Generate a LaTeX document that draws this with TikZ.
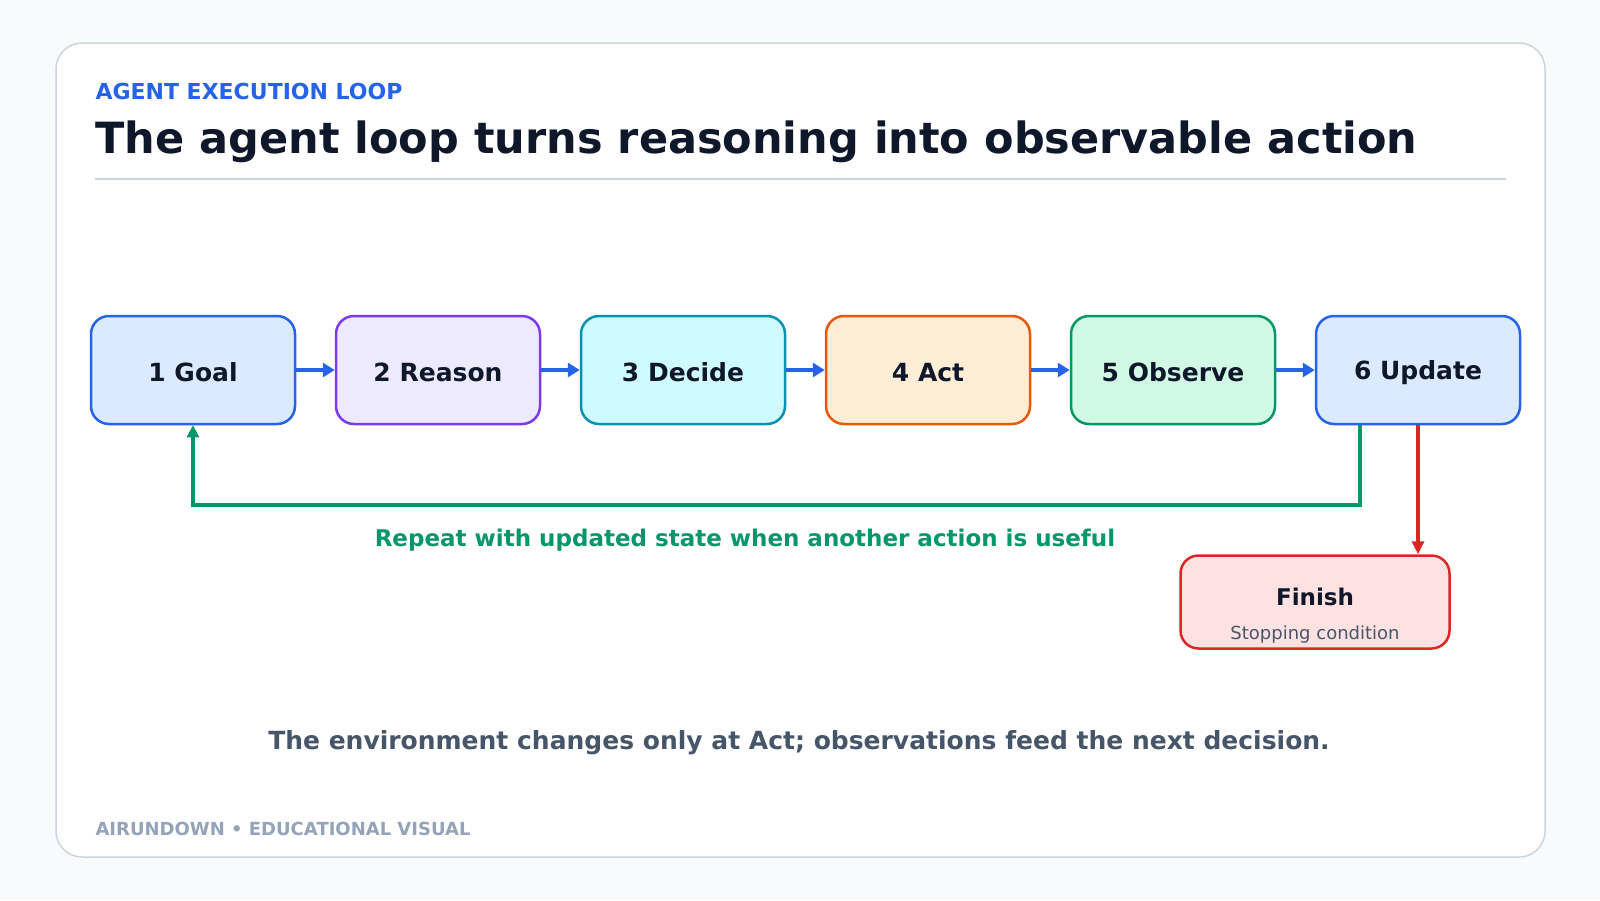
\documentclass[tikz,border=0pt]{standalone}
\usepackage{fontspec}
\setmainfont{DejaVu Sans}
\usepackage{xcolor}
\usetikzlibrary{positioning,arrows.meta}

\definecolor{pagebg}{HTML}{F8FAFC}
\definecolor{cardline}{HTML}{CBD5E1}
\definecolor{ink}{HTML}{0F172A}
\definecolor{slate}{HTML}{475569}
\definecolor{muted}{HTML}{94A3B8}
\definecolor{blueline}{HTML}{2563EB}
\definecolor{bluefill}{HTML}{DBEAFE}
\definecolor{purpleline}{HTML}{7C3AED}
\definecolor{purplefill}{HTML}{EDE9FE}
\definecolor{cyanline}{HTML}{0891B2}
\definecolor{cyanfill}{HTML}{CFFAFE}
\definecolor{orangeline}{HTML}{EA580C}
\definecolor{orangefill}{HTML}{FFEDD5}
\definecolor{greenline}{HTML}{059669}
\definecolor{greenfill}{HTML}{D1FAE5}
\definecolor{redline}{HTML}{DC2626}
\definecolor{redfill}{HTML}{FEE2E2}

\newcommand{\pxsize}[1]{\fontsize{#1}{#1}\selectfont}

\begin{document}
\begin{tikzpicture}[
    x=1pt, y=-1pt,
    stage/.style={rectangle, rounded corners=18pt, line width=2.5pt, minimum width=204pt, minimum height=108pt, align=center, text height=24pt, text=ink, font=\bfseries\pxsize{25}},
    flow/.style={-{Triangle[length=12pt,width=14pt]}, line width=4pt, blueline},
    repeatarrow/.style={-{Triangle[length=12pt,width=12pt]}, line width=3.5pt, greenline},
    stoparrow/.style={-{Triangle[length=13pt,width=12pt]}, line width=3.5pt, redline}
]

% Page and card
\useasboundingbox[fill=pagebg] (0,0) rectangle (1600,900);
\draw[cardline, fill=white, line width=1.5pt, rounded corners=26pt] (56,43) rectangle (1545,857);

% Heading
\node[anchor=base west, text=blueline, font=\bfseries\pxsize{22}] (kicker) at (92,99) {AGENT EXECUTION LOOP};
\node[anchor=base west, text=ink, font=\bfseries\pxsize{43}] (title) at (92,153) {The agent loop turns reasoning into observable action};
\draw[cardline, line width=2pt] (95,179) -- (1506,179);

% Stages
\node[stage, draw=blueline, fill=bluefill] (goal) at (193,370) {1 Goal};
\node[stage, draw=purpleline, fill=purplefill] (reason) at (438,370) {2 Reason};
\node[stage, draw=cyanline, fill=cyanfill] (decide) at (683,370) {3 Decide};
\node[stage, draw=orangeline, fill=orangefill] (act) at (928,370) {4 Act};
\node[stage, draw=greenline, fill=greenfill] (observe) at (1173,370) {5 Observe};
\node[stage, draw=blueline, fill=bluefill] (update) at (1418,370) {6 Update};

% Finish
\node[rectangle, rounded corners=18pt, line width=2.5pt, draw=redline, fill=redfill, minimum width=269pt, minimum height=93pt] (finish) at (1315,602) {};
\node[anchor=base, text=ink, font=\bfseries\pxsize{23}] (finishlbl) at (1315,605) {Finish};
\node[anchor=base, text=slate, font=\pxsize{18}] (finishsub) at (1315,639) {Stopping condition};

% Arrows
\foreach \a/\b in {goal/reason, reason/decide, decide/act, act/observe, observe/update}
    \draw[flow] (\a.east) -- (\b.west);
\coordinate (loopbase) at (0,505);
\draw[repeatarrow] ([xshift=-58pt]update.south) |- (loopbase -| goal.south) -- (goal.south);
\node[anchor=base, text=greenline, font=\bfseries\pxsize{23}] (repeatlbl) at (745,546) {Repeat with updated state when another action is useful};
\draw[stoparrow] (update.south) -- (update.south |- finish.north);

% Footer
\node[anchor=base, text=slate, font=\bfseries\pxsize{25}] (note) at (799,749) {The environment changes only at Act; observations feed the next decision.};
\node[anchor=base west, text=muted, font=\bfseries\pxsize{18}] (brand) at (92,835) {AIRUNDOWN • EDUCATIONAL VISUAL};

\end{tikzpicture}
\end{document}
